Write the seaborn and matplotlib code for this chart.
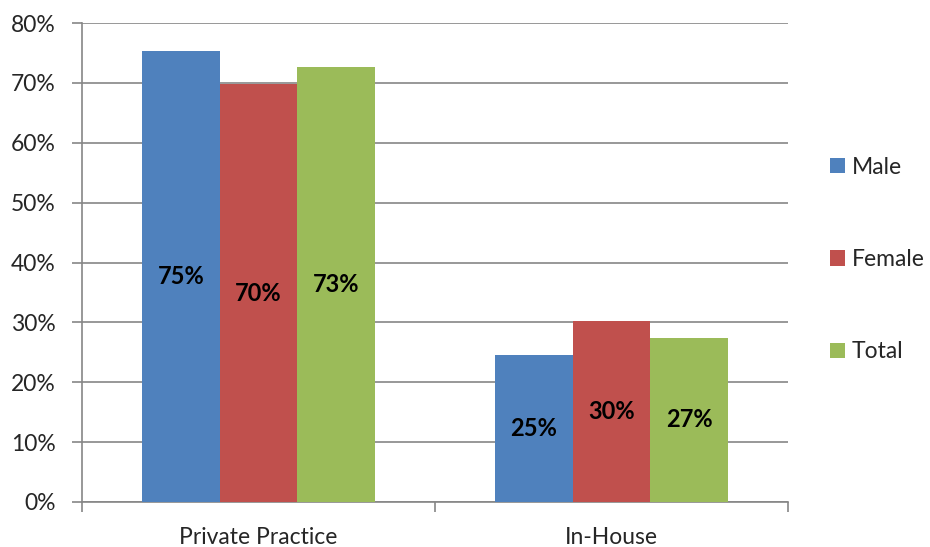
import numpy as np
import pandas as pd
import matplotlib
matplotlib.use("Agg")
import matplotlib.pyplot as plt
from matplotlib.ticker import FixedLocator, PercentFormatter
import seaborn as sns

# Share of respondents by work setting and gender (percent)
settings = ["Private Practice", "In-House"]
groups = ["Male", "Female", "Total"]
male = [75.4, 24.6]
female = [69.8, 30.2]
total = [72.6, 27.4]
colors = ["#4F81BD", "#C0504D", "#9BBB59"]

df = pd.DataFrame({
    "Setting": settings * 3,
    "Group": [g for g in groups for _ in settings],
    "Share": male + female + total,
})

sns.set_theme(style="white")
plt.rcParams["font.family"] = ["Lato", "DejaVu Sans"]
text_color = "#262626"
grid_color = "#868686"

fig = plt.figure(figsize=(9.3, 5.47), dpi=100)
ax = fig.add_axes([82 / 930, 45 / 547, 706 / 930, 479 / 547])

sns.barplot(data=df, x="Setting", y="Share", hue="Group", hue_order=groups,
            order=settings, palette=colors, saturation=1, width=0.66,
            linewidth=0, errorbar=None, ax=ax, zorder=3)

# value labels centred inside every bar
for cont in ax.containers:
    ax.bar_label(cont, labels=[f"{v:.0f}%" for v in cont.datavalues],
                 label_type="center", fontsize=17, fontweight="bold",
                 color="black")

ax.set_ylim(0, 80)
ax.set_xlim(-0.5, 1.5)
ax.yaxis.set_major_locator(FixedLocator(np.arange(0, 81, 10)))
ax.yaxis.set_major_formatter(PercentFormatter(decimals=0))
ax.grid(axis="y", color=grid_color, linewidth=1.2, zorder=0)
ax.set_axisbelow(True)

ax.set_xlabel("")
ax.set_ylabel("")
ax.xaxis.set_minor_locator(FixedLocator([-0.5, 0.5, 1.5]))
ax.tick_params(axis="x", which="major", length=0, pad=18,
               labelsize=16.5, labelcolor=text_color)
ax.tick_params(axis="x", which="minor", length=7, width=1.2,
               color=grid_color, direction="out", bottom=True)
ax.tick_params(axis="y", length=7, width=1.2, color=grid_color,
               direction="out", left=True, pad=12,
               labelsize=16.5, labelcolor=text_color)

for side in ("top", "right"):
    ax.spines[side].set_visible(False)
for side in ("left", "bottom"):
    ax.spines[side].set_color(grid_color)
    ax.spines[side].set_linewidth(1.2)

handles, labels = ax.get_legend_handles_labels()
ax.legend_.remove()
fig.legend(handles, labels, loc="center left",
           bbox_to_anchor=(830 / 930, 1 - 259.5 / 547),
           frameon=False, fontsize=16.5, labelcolor=text_color,
           handlelength=0.65, handleheight=0.65, handletextpad=0.3,
           labelspacing=3.12, borderpad=0, borderaxespad=0)

fig.savefig("out.png", dpi=100, facecolor="white")
